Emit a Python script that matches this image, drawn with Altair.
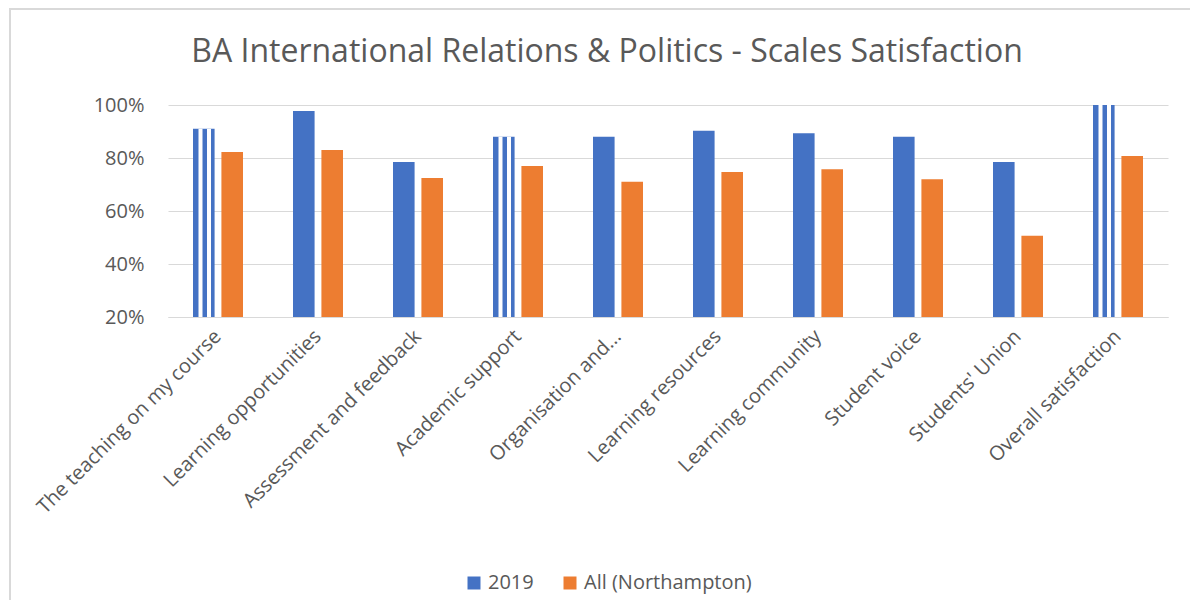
import altair as alt
import pandas as pd

categories = [
    "The teaching on my course",
    "Learning opportunities",
    "Assessment and feedback",
    "Academic support",
    "Organisation and...",
    "Learning resources",
    "Learning community",
    "Student voice",
    "Students' Union",
    "Overall satisfaction",
]
series_names = ["2019", "All (Northampton)"]
values_2019 = [0.91, 0.977, 0.785, 0.88, 0.88, 0.903, 0.893, 0.88, 0.785, 1.00]
values_all = [0.823, 0.83, 0.725, 0.77, 0.71, 0.747, 0.758, 0.72, 0.507, 0.808]
striped = ["The teaching on my course", "Academic support", "Overall satisfaction"]

rows = []
for c, v in zip(categories, values_2019):
    rows.append({"category": c, "series": series_names[0], "value": v})
for c, v in zip(categories, values_all):
    rows.append({"category": c, "series": series_names[1], "value": v})
df = pd.DataFrame(rows)

stripe_df = pd.DataFrame(
    [{"category": c, "value": v} for c, v in zip(categories, values_2019) if c in striped]
)

FONT = "Open Sans"
GREY = "#595959"
LINE = "#D9D9D9"

x_enc = alt.X(
    "category:N",
    sort=categories,
    title=None,
    scale=alt.Scale(paddingInner=0.5, paddingOuter=0.25),
    axis=alt.Axis(
        labelAngle=-45,
        labelAlign="right",
        labelBaseline="middle",
        labelFontSize=20,
        labelColor=GREY,
        labelFont=FONT,
        labelPadding=16,
        labelLimit=500,
        ticks=False,
        domainColor=LINE,
        domainWidth=1,
        grid=False,
    ),
)
y_scale = alt.Scale(domain=[0.2, 1.0])
y_enc = alt.Y(
    "value:Q",
    scale=y_scale,
    title=None,
    axis=alt.Axis(
        format=".0%",
        values=[0.2, 0.4, 0.6, 0.8, 1.0],
        labelFontSize=20,
        labelColor=GREY,
        labelFont=FONT,
        labelPadding=24,
        ticks=False,
        domain=False,
        gridColor=LINE,
        gridWidth=1,
    ),
)

bars = alt.Chart(df).mark_bar().encode(
    x=x_enc,
    xOffset=alt.XOffset("series:N", sort=series_names, scale=alt.Scale(paddingInner=0.24)),
    y=y_enc,
    y2=alt.datum(0.2),
    color=alt.Color(
        "series:N",
        sort=series_names,
        scale=alt.Scale(domain=series_names, range=["#4472C4", "#ED7D31"]),
        legend=alt.Legend(
            title=None,
            orient="none",
            direction="horizontal",
            legendX=296,
            legendY=468,
            symbolType="square",
            symbolSize=169,
            symbolStrokeWidth=0,
            labelFontSize=20,
            labelColor=GREY,
            labelFont=FONT,
            labelLimit=400,
            columnPadding=26,
            padding=0,
        ),
    ),
)

stripe_layers = []
for off in [-17.5, -9]:
    stripe_layers.append(
        alt.Chart(stripe_df)
        .mark_rule(color="white", strokeWidth=4, xOffset=off)
        .encode(
            x=alt.X("category:N", sort=categories),
            y=alt.Y("value:Q", scale=y_scale),
            y2=alt.datum(0.2),
        )
    )

frame_df = pd.DataFrame({"k": [0]})
frame_left = alt.Chart(frame_df).mark_rule(color=LINE, strokeWidth=2).encode(
    x=alt.value(-158), y=alt.value(-97), y2=alt.value(495)
)
frame_top = alt.Chart(frame_df).mark_rule(color=LINE, strokeWidth=2).encode(
    x=alt.value(-159), x2=alt.value(1030), y=alt.value(-96)
)

chart = (
    alt.layer(bars, *stripe_layers, frame_left, frame_top)
    .properties(
        width=1000,
        height=212,
        background="white",
        title=alt.TitleParams(
            "BA International Relations & Politics - Scales Satisfaction",
            font=FONT,
            fontSize=32,
            fontWeight="normal",
            color=GREY,
            anchor="middle",
            frame="group",
            dx=-61,
            offset=-62,
        ),
        autosize=alt.AutoSizeParams(type="none"),
        padding={"left": 160, "top": 97, "right": 22, "bottom": 287},
    )
    .configure_view(strokeWidth=0, stroke="transparent")
)

chart.save("out.html", embed_options={"renderer": "svg", "actions": False})
